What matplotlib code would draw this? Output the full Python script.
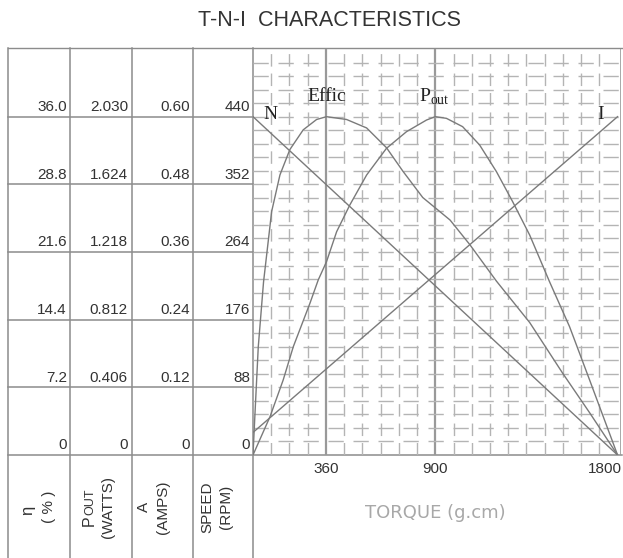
import numpy as np
import matplotlib.pyplot as plt
from matplotlib import transforms

W, H = 623, 558

# table rows (speed scale positions) and the column labels
row_speed = [440, 352, 264, 176, 88, 0]
col_eff = ['36.0', '28.8', '21.6', '14.4', '7.2', '0']
col_pout = ['2.030', '1.624', '1.218', '0.812', '0.406', '0']
col_amps = ['0.60', '0.48', '0.36', '0.24', '0.12', '0']
col_speed = ['440', '352', '264', '176', '88', '0']
torque_ticks = [360, 900, 1800]

# curves
speed_T = [0, 1800]
speed_N = [440, 0]
amps_T = [0, 1800]
amps_I = [0.04, 0.60]
eff_T = [0, 10, 26, 52, 92, 133, 182, 248, 314, 363, 462, 561, 659, 740, 838,
         973, 1070, 1202, 1366, 1529, 1662, 1800]
eff_val = [0, 4.5, 11.5, 18.4, 25.9, 29.8, 32.5, 34.6, 35.7, 36.0, 35.7, 34.8,
           32.7, 30.2, 27.4, 25.0, 22.4, 18.5, 14.1, 8.7, 4.5, 0]
pout_T = [0, 84, 149, 199, 281, 322, 363, 413, 478, 561, 659, 758, 857, 900,
          955, 1035, 1119, 1202, 1282, 1366, 1464, 1563, 1662, 1800]
pout_val = [0, 0.23, 0.45, 0.65, 0.91, 1.05, 1.16, 1.34, 1.50, 1.68, 1.84, 1.94,
            2.01, 2.03, 2.02, 1.97, 1.86, 1.70, 1.52, 1.32, 1.04, 0.77, 0.45, 0]

line_c = '#8c8c8c'
grid_c = '#b4b4b4'
text_c = '#333333'
sans = 'Liberation Sans'
serif = 'Liberation Serif'

fig = plt.figure(figsize=(W / 100, H / 100), dpi=100)

# full-figure axes in pixel units for the table frame
tab = fig.add_axes([0, 0, 1, 1])
tab.set_xlim(0, W)
tab.set_ylim(H, 0)
tab.axis('off')

ax = fig.add_axes([253 / W, (H - 455) / H, (621 - 253) / W, (455 - 49) / H])
ax.set_xlim(0, 1817)
ax.set_ylim(0, 528)
ax.patch.set_visible(False)
ax.set_xticks([])
ax.set_yticks([])
for s in ax.spines.values():
    s.set_visible(False)

# grid
for t in np.arange(90, 1800, 90):
    if t in (360, 900):
        ax.axvline(t, color='#999999', lw=1.6, zorder=1)
    else:
        ax.axvline(t, color=grid_c, lw=1.0, dashes=(9, 5), zorder=1)
ax.axvline(1817, color='#999999', lw=1.2, zorder=1)
for v in np.arange(17.6, 528, 17.6):
    ax.axhline(v, color=grid_c, lw=1.0, dashes=(11, 7), zorder=1)

# table frame
trans = transforms.blended_transform_factory(tab.transData, ax.transData)
tab.plot([8, 622], [48, 48], color=line_c, lw=1)
for x in [8, 70, 132, 193, 253]:
    tab.plot([x, x], [48, H], color=line_c, lw=1.1)
for s in row_speed[:-1]:
    tab.plot([8, 253], [s, s], color=line_c, lw=1.1, transform=trans)
tab.plot([8, 622], [0, 0], color=line_c, lw=1.1, transform=trans)

cols = [(67, col_eff), (128, col_pout), (190, col_amps), (250, col_speed)]
for xr, labels in cols:
    for s, lab in zip(row_speed, labels):
        tab.annotate(lab, (xr, s), xycoords=trans, xytext=(0, 2),
                     textcoords='offset points', ha='right', va='bottom',
                     fontsize=11, family=sans, color=text_c)

# rotated column headings
rot = dict(rotation=90, ha='center', va='center', color=text_c, family=sans)
tab.text(28, 510, 'η', fontsize=12, **rot)
tab.text(49, 507, '( % )', fontsize=11, **rot)
tab.text(89, 521, 'P', fontsize=11.5, **rot)
tab.text(90.5, 502, 'OUT', fontsize=9, **rot)
tab.text(108, 507, '(WATTS)', fontsize=11, **rot)
tab.text(144, 507, 'A', fontsize=11, **rot)
tab.text(163, 507, '(AMPS)', fontsize=11, **rot)
tab.text(207, 507, 'SPEED', fontsize=11, **rot)
tab.text(226, 507, '(RPM)', fontsize=11, **rot)

# curves on their own scales
ax_eff = ax.twinx()
ax_pout = ax.twinx()
ax_amp = ax.twinx()
for a, top in [(ax_eff, 36.0), (ax_pout, 2.03), (ax_amp, 0.60)]:
    a.set_ylim(0, top * 1.2)
    a.axis('off')

ax.plot(speed_T, speed_N, color='#7a7a7a', lw=1, zorder=3)
ax_amp.plot(amps_T, amps_I, color='#7a7a7a', lw=1)
ax_eff.plot(eff_T, eff_val, color='#7a7a7a', lw=1)
ax_pout.plot(pout_T, pout_val, color='#7a7a7a', lw=1)

lab = dict(family=serif, fontsize=14, ha='center', va='center', color='#222222')
ax.text(84, 443, 'N', **lab)
ax.text(365, 466, 'Effic', **lab)
ax.text(895, 466, r'P$_{\mathregular{out}}$', **lab)
ax.text(1718, 443, 'I', **lab)

# torque ticks and label (last one kept inside the right edge)
for t in torque_ticks:
    ha = 'right' if t == torque_ticks[-1] else 'center'
    dx = 3 if t == torque_ticks[-1] else 0
    ax.annotate(str(t), (t, 0), xytext=(dx, -10), textcoords='offset points',
                ha=ha, va='center', fontsize=11, family=sans, color=text_c,
                annotation_clip=False)
tab.text(435, 513, 'TORQUE (g.cm)', fontsize=13, color='#a8a8a8', ha='center', va='center')

fig.text(330 / W, 1 - 20 / H, 'T-N-I  CHARACTERISTICS', fontsize=15.5, color=text_c,
         ha='center', va='center', family=sans)

fig.savefig('out.png', dpi=100)
